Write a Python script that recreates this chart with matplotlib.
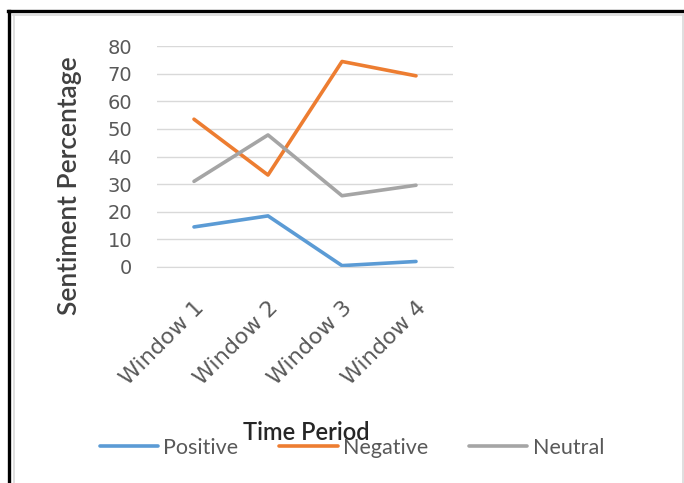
import matplotlib.pyplot as plt
from matplotlib.lines import Line2D

# sentiment share per time window (%)
windows = ["Window 1", "Window 2", "Window 3", "Window 4"]
positive = [14.5, 18.5, 0.5, 2.0]
negative = [53.5, 33.3, 74.4, 69.2]
neutral = [31.0, 47.8, 25.8, 29.6]

W, H = 684, 483
fig = plt.figure(figsize=(W / 100, H / 100), dpi=100)

# axes placed in pixel terms
def px(x0, y0, x1, y1):
    return [x0 / W, 1 - y1 / H, (x1 - x0) / W, (y1 - y0) / H]

ax = fig.add_axes(px(157, 46, 453, 267))

x = range(len(windows))
ax.plot(x, positive, color="#5B9BD5", lw=2.6, label="Positive", solid_capstyle="round")
ax.plot(x, negative, color="#ED7D31", lw=2.6, label="Negative", solid_capstyle="round")
ax.plot(x, neutral, color="#A5A5A5", lw=2.6, label="Neutral", solid_capstyle="round")

ax.set_xlim(-0.5, len(windows) - 0.5)
ax.set_ylim(0, 80)
ax.set_yticks(range(0, 81, 10))
ax.yaxis.grid(True, color="#D9D9D9", lw=1)
ax.set_axisbelow(True)
for s in ax.spines.values():
    s.set_visible(False)
ax.spines["bottom"].set_visible(True)
ax.spines["bottom"].set_color("#D9D9D9")
ax.tick_params(length=0, colors="#595959")
ax.tick_params(axis="y", pad=18)
ax.tick_params(axis="x", pad=22)

ax.set_xticks(list(x))
ax.set_xticklabels(windows, rotation=45, ha="right", rotation_mode="anchor",
                   family="Liberation Sans Narrow", fontsize=16)
for t in ax.get_yticklabels():
    t.set_family("Liberation Sans Narrow")
    t.set_fontsize(14)

fig.text(70 / W, 1 - 186 / H, "Sentiment Percentage", rotation=90, ha="center",
         va="center", family="Lato", fontweight="semibold", fontsize=19, color="#404040")
fig.text(306 / W, 1 - 433 / H, "Time Period", ha="center", va="center",
         family="Lato", fontweight="semibold", fontsize=17, color="#262626")

fig.legend(loc="center", bbox_to_anchor=(352 / W, 1 - 448 / H), ncol=3, frameon=False,
           prop={"family": "Lato", "size": 15.5}, labelcolor="#595959",
           handlelength=2.7, handletextpad=0.25, columnspacing=1.9)

# outer frame
fig.add_artist(Line2D([8 / W, 1], [1 - 11 / H] * 2, color="black", lw=2.4))
fig.add_artist(Line2D([9 / W] * 2, [0, 1 - 11 / H], color="black", lw=2.4))
fig.add_artist(Line2D([13 / W, 683 / W], [1 - 14.5 / H] * 2, color="#D9D9D9", lw=1.2))
fig.add_artist(Line2D([13.5 / W] * 2, [0, 1 - 14.5 / H], color="#D9D9D9", lw=1.2))
fig.add_artist(Line2D([682.5 / W] * 2, [0, 1 - 14.5 / H], color="#D9D9D9", lw=1.2))

fig.savefig("out.png", dpi=100)
